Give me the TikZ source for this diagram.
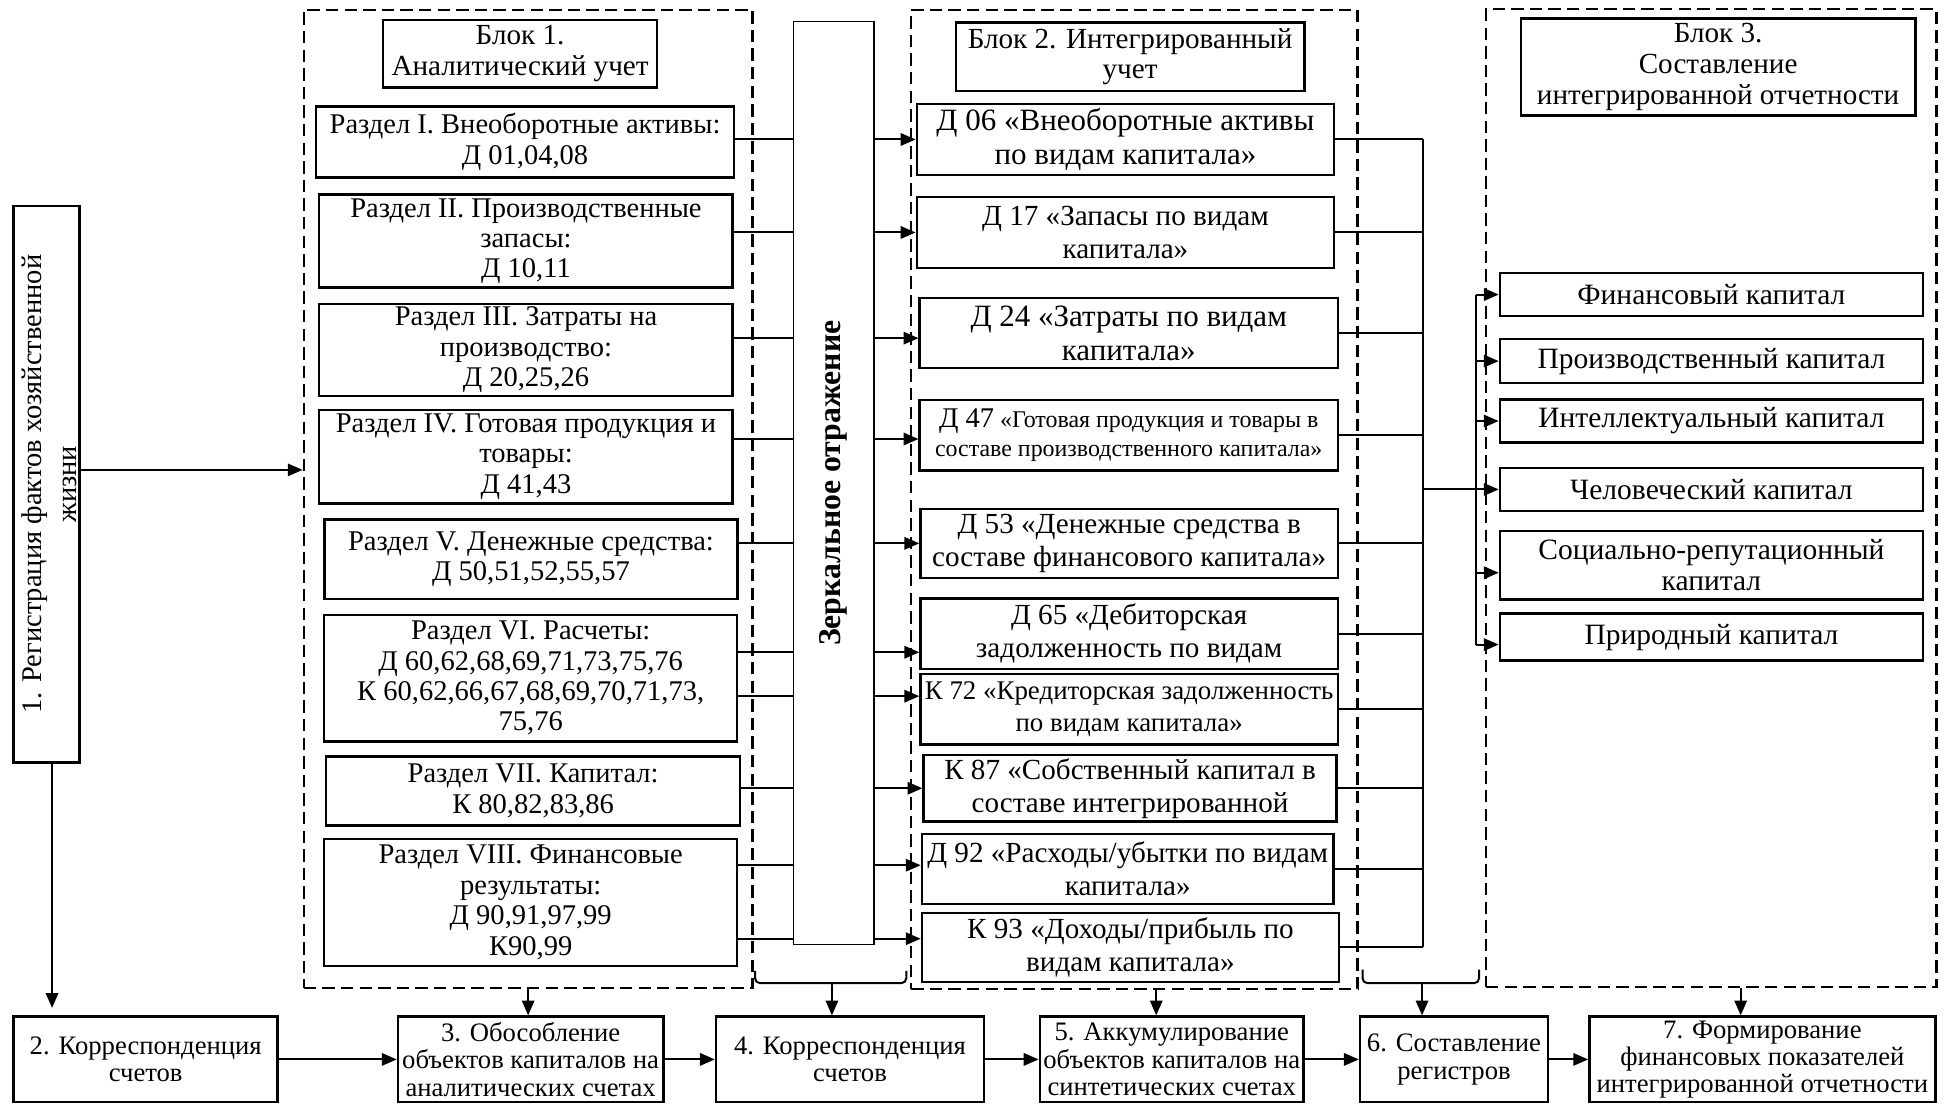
\documentclass[tikz,border=0pt]{standalone}
\usepackage{fontspec}
\setmainfont{Liberation Serif}
\usetikzlibrary{arrows.meta,backgrounds}
\newcommand\bx[7]{\node[#6,minimum width={#4pt-#2pt},minimum height={#5pt-#3pt}] (#1) at ({(#2+#4)/2},{(#3+#5)/2}) {#7};}
\begin{document}
\begin{tikzpicture}[x=1pt,y=-1pt,
  box/.style={draw,line width=2pt,inner sep=0pt,align=center},
  blk/.style={draw,dash pattern=on 10pt off 5pt,line width=1.8pt,inner sep=0pt},
  ln/.style={line width=1.6pt},
  arr/.style={ln,-{Triangle[length=12pt,width=10pt]}},
  fsec/.style={font=\fontsize{23}{24.5}\selectfont},
  fint/.style={font=\fontsize{23.5}{26.5}\selectfont},
  fbot/.style={font=\fontsize{21.5}{22}\selectfont},
  fcap/.style={font=\fontsize{23.8}{25.2}\selectfont},
  ftit/.style={font=\fontsize{23.5}{24.8}\selectfont}]
\useasboundingbox (0,0) rectangle (1568,892);
% dashed blocks
\bx{blk1}{245}{8}{607}{797}{blk}{}
\bx{blk2}{735}{8}{1095}{798}{blk}{}
\bx{blk3}{1198.6}{7.5}{1562}{796}{blk}{}
% left box
\bx{L1}{11}{166}{64}{615}{box}{}
\node[rotate=90,align=center,inner sep=0pt,font=\fontsize{23}{28}\selectfont] (L1t) at ([xshift=2pt]L1.center) {1. Регистрация фактов хозяйственной\\жизни};
% block 1
\bx{T1}{309}{16}{530}{70.6}{box,ftit}{Блок 1.\\Аналитический учет}
\bx{S1}{255}{86}{592}{143}{box,fsec}{Раздел I. Внеоборотные активы:\\Д 01,04,08}
\bx{S2}{257.5}{157}{591}{232}{box,fsec}{Раздел II. Производственные\\запасы:\\Д 10,11}
\bx{S3}{257.5}{245}{591}{319.5}{box,fsec}{Раздел III. Затраты на\\производство:\\Д 20,25,26}
\bx{S4}{257.5}{330.7}{591}{406}{box,fsec}{Раздел IV. Готовая продукция и\\товары:\\Д 41,43}
\bx{S5}{261.6}{419}{595}{483}{box,fsec}{Раздел V. Денежные средства:\\Д 50,51,52,55,57}
\bx{S6}{261.5}{496}{594.6}{598}{box,fsec}{Раздел VI. Расчеты:\\Д 60,62,68,69,71,73,75,76\\К 60,62,66,67,68,69,70,71,73,\\75,76}
\bx{S7}{263}{610}{597}{666}{box,fsec}{Раздел VII. Капитал:\\К 80,82,83,86}
\bx{S8}{261.5}{676.6}{594.6}{779}{box,fsec}{Раздел VIII. Финансовые\\результаты:\\Д 90,91,97,99\\К90,99}
% mirror
\bx{M}{640}{17.5}{705}{762}{draw,line width=1pt,fill=white,inner sep=0pt}{}
\node[rotate=90,inner sep=0pt,font=\fontsize{25.6}{28}\selectfont\bfseries] (Mt) at (M.center) {Зеркальное отражение};
% block 2
\bx{T2}{771}{18}{1052}{73.4}{box,ftit}{Блок 2. Интегрированный\\учет}
\bx{D06}{739.5}{84}{1076}{141}{box,font=\fontsize{25}{27.4}\selectfont}{Д 06 «Внеоборотные активы\\по видам капитала»}
\bx{D17}{739.5}{159}{1076}{216}{box,fint}{Д 17 «Запасы по видам\\капитала»}
\bx{D24}{741.8}{240.5}{1079}{297}{box,font=\fontsize{25}{27.4}\selectfont}{Д 24 «Затраты по видам\\капитала»}
\bx{D47}{741.8}{322.6}{1079}{379.6}{box,font=\fontsize{19.3}{23}\selectfont}{{\fontsize{23}{23}\selectfont Д 47} «Готовая продукция и товары в\\составе производственного капитала»}
\bx{D53}{742.5}{410.5}{1079}{466}{box,fint}{Д 53 «Денежные средства в\\составе финансового капитала»}
\bx{D65}{742.5}{482.7}{1079}{539.5}{box,fint}{Д 65 «Дебиторская\\задолженность по видам}
\bx{K72}{742.5}{543.6}{1079}{600.6}{box,font=\fontsize{21.7}{26}\selectfont}{К 72 «Кредиторская задолженность\\по видам капитала»}
\bx{K87}{745}{609}{1078}{662.6}{box,fint}{К 87 «Собственный капитал в\\составе интегрированной}
\bx{D92}{743.6}{672.7}{1075.6}{729}{box,fint}{Д 92 «Расходы/убытки по видам\\капитала»}
\bx{K93}{743.6}{736.3}{1080}{792}{box,fint}{К 93 «Доходы/прибыль по\\видам капитала»}
% block 3
\bx{T3}{1226.6}{15}{1545}{93}{box,ftit}{Блок 3.\\Составление\\интегрированной отчетности}
\bx{C1}{1209.8}{220.3}{1551}{254.9}{box,fcap}{Финансовый капитал}
\bx{C2}{1209.8}{273.6}{1551}{308.9}{box,fcap}{Производственный капитал}
\bx{C3}{1209.8}{322.2}{1551}{357}{box,fcap}{Интеллектуальный капитал}
\bx{C4}{1209.8}{377.3}{1551}{412.2}{box,fcap}{Человеческий капитал}
\bx{C5}{1209.8}{428.4}{1551}{483.5}{box,fcap}{Социально-репутационный\\капитал}
\bx{C6}{1209.8}{495}{1551}{532.8}{box,fcap}{Природный капитал}
% bottom row
\bx{B2}{11}{820}{224}{889}{box,fbot}{2. Корреспонденция\\счетов}
\bx{B3}{321}{820}{535}{889}{box,fbot}{3. Обособление\\объектов капиталов на\\аналитических счетах}
\bx{B4}{577.6}{820}{793.6}{889}{box,fbot}{4. Корреспонденция\\счетов}
\bx{B5}{838.7}{820}{1051.5}{889}{box,fbot}{5. Аккумулирование\\объектов капиталов на\\синтетических счетах}
\bx{B6}{1097}{820}{1248.5}{889}{box,fbot}{6. Составление\\регистров}
\bx{B7}{1282}{820}{1561}{889}{box,fbot}{7. Формирование\\финансовых показателей\\интегрированной отчетности}
% coordinates
\coordinate (V2) at (1148,394.2);
\coordinate (V3) at (1190.7,394.2);
\coordinate (br1) at (671,793);
\coordinate (br2) at (1147,793);
\begin{scope}[on background layer]
  \draw[arr] (S1.east |- D06.west) -- (D06.west);
  \draw[arr] (S2.east |- D17.west) -- (D17.west);
  \draw[arr] ([yshift=-4pt]S3.east |- D24.west) -- ([yshift=-4pt]D24.west);
  \draw[arr] ([yshift=-3pt]S4.east |- D47.west) -- ([yshift=-3pt]D47.west);
  \draw[arr] (S5.east |- D53.west) -- (D53.west);
  \draw[arr] ([yshift=-15pt]S6.east |- D65.west) -- ([yshift=-15pt]D65.west);
  \draw[arr] ([yshift=10.6pt]S6.east |- K72.west) -- ([yshift=10.6pt]K72.west);
  \draw[arr] (S7.east |- K87.west) -- (K87.west);
  \draw[arr] ([yshift=3pt]S8.east |- D92.west) -- ([yshift=3pt]D92.west);
  \draw[arr] ([yshift=7pt]S8.east |- K93.west) -- ([yshift=7pt]K93.west);
\end{scope}
% left box connectors
\draw[arr] ([yshift=11.5pt]L1.east) -- ([yshift=11.5pt]L1.east -| blk1.west);
\draw[arr,shorten >=6pt] ([xshift=4.5pt]L1.south) -- ([xshift=4.5pt]L1.south |- B2.north);
% block 2 -> block 3
\foreach \n in {D06,D17,D24,D47,D53,D65,K72,K87,D92,K93} {\draw[ln] (\n.east) -- (\n.east -| V2);}
\draw[ln] (D06.east -| V2) -- (K93.east -| V2);
\draw[ln] (V2) -- (V3);
\draw[ln] (C1.west -| V3) -- ([yshift=-6pt]C6.west -| V3);
\foreach \n/\s in {C1/0,C2/0,C3/0,C4/0,C5/-6,C6/-6} {\draw[arr] ([yshift=\s pt]\n.west -| V3) -- ([yshift=\s pt]\n.west);}
% brackets
\draw[ln,rounded corners=4pt] (609,783) -- (609,793) -- (731,793) -- (731,783);
\draw[ln,rounded corners=4pt] (1099,782) -- (1099,793) -- (1193,793) -- (1193,782);
% down arrows
\draw[arr] (blk1.south) -- (blk1.south |- B3.north);
\draw[arr] (br1) -- (br1 |- B4.north);
\draw[arr] ([xshift=17.6pt]blk2.south) -- ([xshift=17.6pt]blk2.south |- B5.north);
\draw[arr] (br2) -- (br2 |- B6.north);
\draw[arr] ([xshift=23.7pt]blk3.south) -- ([xshift=23.7pt]blk3.south |- B7.north);
% bottom row
\draw[arr] (B2) -- (B3);
\draw[arr] (B3) -- (B4);
\draw[arr] (B4) -- (B5);
\draw[arr] (B5) -- (B6);
\draw[arr] (B6) -- (B7);
\end{tikzpicture}
\end{document}
